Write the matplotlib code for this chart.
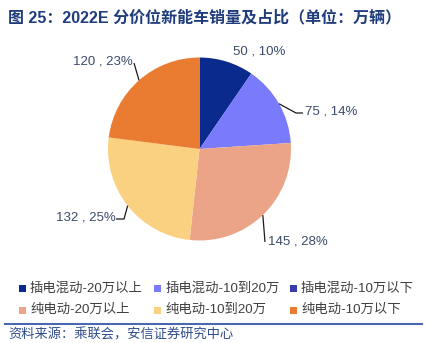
import numpy as np
import matplotlib.pyplot as plt
from matplotlib.patches import Rectangle

plt.rcParams['font.family'] = ['Liberation Sans', 'Noto Sans CJK SC', 'DejaVu Sans']

# data (万辆)
categories = ['插电混动-20万以上', '插电混动-10到20万', '插电混动-10万以下',
              '纯电动-20万以上', '纯电动-10到20万', '纯电动-10万以下']
sales = [50, 75, 0, 145, 132, 120]
colors = ['#0B2A8E', '#7A7AFC', '#3A3AAE', '#EBA487', '#FAD081', '#E97C30']

W, H = 428, 343
fig = plt.figure(figsize=(W / 100, H / 100), dpi=100)
ax = fig.add_axes([0, 0, 1, 1])
ax.axis('off')

def Y(py):
    # pixel row (top-down) -> data y
    return H - py

cx, cy, r = 199.5, 149, 91.5
wedges, _ = ax.pie(sales, colors=colors, startangle=90, counterclock=False,
                   center=(cx, Y(cy)), radius=r, wedgeprops=dict(linewidth=0))
ax.set_xlim(0, W)
ax.set_ylim(0, H)
ax.set_aspect('equal')

total = float(sum(sales))
label_color = '#3B4A6B'

# label layout: text pos (left x, center y in px), leader elbow points (px)
layout = {
    0: dict(txt=(233, 52), path=None),
    1: dict(txt=(305, 112), path=[(296, 113), (303, 113)]),
    3: dict(txt=(268, 241), path=[(265, 242)]),
    4: dict(txt=(56, 218), path=[(124, 219), (116, 219)]),
    5: dict(txt=(73, 61), path=[(134, 63)]),
}

cum = 0
for i, v in enumerate(sales):
    mid = (cum + v / 2) / total * 360
    cum += v
    if i not in layout:
        continue
    lay = layout[i]
    ex = cx + r * np.sin(np.radians(mid))
    ey = cy - r * np.cos(np.radians(mid))
    if lay['path']:
        xs = [ex] + [p[0] for p in lay['path']]
        ys = [Y(ey)] + [Y(p[1]) for p in lay['path']]
        ax.plot(xs, ys, color='#1a1a1a', lw=0.9, solid_capstyle='butt')
    pct = round(v / total * 100)
    ax.text(lay['txt'][0], Y(lay['txt'][1]), f'{v} , {pct}%', fontsize=9.5,
            color=label_color, ha='left', va='center')

# title
ax.text(8, Y(18), '图 25：2022E 分价位新能车销量及占比（单位：万辆）',
        fontsize=11.5, fontweight='bold', color='#1F3C7C', ha='left', va='center')

# legend, row-wise
for i, name in enumerate(categories):
    col, row = i % 3, i // 3
    mx = 19 + col * 135.5
    my = 288 + row * 22
    ax.add_patch(Rectangle((mx, Y(my) - 3.5), 7, 7, color=colors[i], lw=0))
    ax.text(mx + 11, Y(my), name, fontsize=9.6, color='#404040',
            ha='left', va='center')

# separator + source
ax.plot([5, 422], [Y(324), Y(324)], color='#4A68B0', lw=1.5)
ax.text(8, Y(335), '资料来源：乘联会，安信证券研究中心', fontsize=9.5,
        color='#2E4C8C', ha='left', va='center')

fig.savefig('out.png', dpi=100)
